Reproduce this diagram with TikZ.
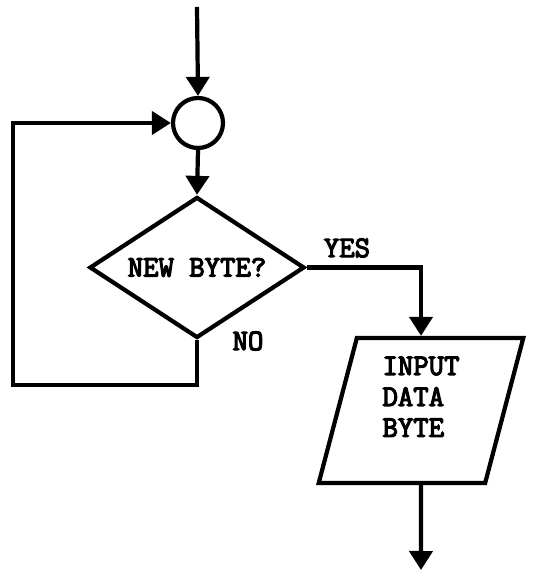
\documentclass[tikz,border=0pt]{standalone}
\usepackage{fontspec}
\newfontfamily\flowfont[FakeBold=4]{Latin Modern Mono}
\usetikzlibrary{shapes.geometric, arrows.meta, positioning, calc}
\tikzset{
  % --- Luu do -----------------------------------------------
  conn/.style={draw, circle, line width=2.4pt, minimum size=1cm, inner sep=0pt},
  dec/.style={draw, diamond, line width=2.4pt, aspect=1.52,
    minimum width=4.3cm, minimum height=2.82cm, inner sep=0pt,
    align=center, font=\flowfont\fontsize{17}{17.6}\selectfont},
  io/.style={draw, trapezium, trapezium left angle=78, trapezium right angle=102,
    trapezium stretches=true, line width=2.4pt,
    minimum width=4.1cm, minimum height=2.9cm, inner sep=0pt,
    align=left, font=\flowfont\fontsize{17}{17.6}\selectfont},
  fl/.style={-{Triangle[width=0.46cm, length=0.38cm]}, line width=2.4pt},
  lbl/.style={font=\flowfont\fontsize{17}{17.6}\selectfont, inner sep=1pt}
}
\begin{document}
\begin{tikzpicture}
  \useasboundingbox (0,0) rectangle (10.64,11.44);

  % --- Cac khoi -----------------------------------------------------
  \coordinate (start) at (3.94,11.30);
  \node[conn] (J) at (3.96,8.98) {};
  \node[dec] (NB) at (3.94,6.09) {NEW BYTE?};
  \node[io] (IN) at (8.42,3.23) {INPUT\\DATA\\BYTE\\[-2pt]\rule{0pt}{8pt}};
  \coordinate (stop) at (8.42,0.04);
  \coordinate (loopR) at (3.94,3.74);
  \coordinate (loopL) at (0.26,3.74);

  % --- Nhan ----------------------------------------------------------
  \node[lbl] (yes) at (6.94,6.48) {YES};
  \node[lbl] (no) at (4.96,4.62) {NO};

  % --- Duong noi -----------------------------------------------------
  \draw[fl] (start) -- (J.north);
  \draw[fl] (J.south) -- (NB.north);
  \draw[fl] (NB.east) -| (IN.north);
  \draw[fl] (NB.south) -- (loopR) -- (loopL) |- (J.west);
  \draw[fl] (IN.south) -- (stop);

\end{tikzpicture}
\end{document}
